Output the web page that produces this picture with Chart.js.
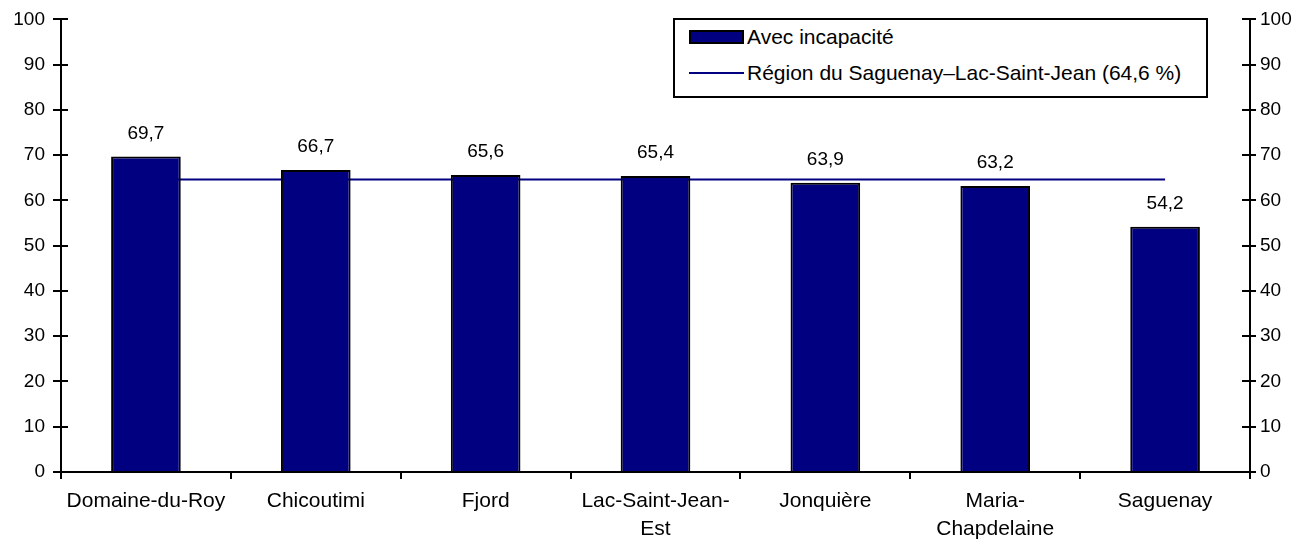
<!DOCTYPE html>
<html lang="fr">
<head>
  <meta charset="UTF-8">
  <title>Avec incapacité</title>
  <script src="https://cdn.jsdelivr.net/npm/chart.js"></script>
  <style>
    body { margin: 0; background: #fff; font-family: "Liberation Sans", Arial, sans-serif; }
    #wrap { position: relative; width: 1312px; height: 544px; }
    #legend {
      position: absolute; left: 673px; top: 18px; width: 531px; height: 76px;
      border: 2px solid #000; background: #fff; font-size: 21px; color: #000;
    }
    #legend .item { position: absolute; left: 14px; display: flex; align-items: center; height: 24px; }
    #legend .box { width: 51px; height: 10px; background: #000080; border: 2px solid #000; margin-right: 3px; }
    #legend .ln { width: 55px; height: 2px; background: #000080; margin-right: 3px; }
  </style>
</head>
<body>
  <div id="wrap">
    <canvas id="chart" width="1312" height="544"></canvas>
    <div id="legend">
      <div class="item" style="top:5px"><span class="box"></span>Avec incapacité</div>
      <div class="item" style="top:41px"><span class="ln"></span>Région du Saguenay–Lac-Saint-Jean (64,6 %)</div>
    </div>
  </div>

  <script>
    const territoires = ['Domaine-du-Roy', 'Chicoutimi', 'Fjord', ['Lac-Saint-Jean-', 'Est'], 'Jonquière', ['Maria-', 'Chapdelaine'], 'Saguenay'];
    const avecIncapacite = [69.7, 66.7, 65.6, 65.4, 63.9, 63.2, 54.2];
    const region = [64.6, 64.6, 64.6, 64.6, 64.6, 64.6, 64.6];

    const famille = '"Liberation Sans", Arial, sans-serif';
    const policeY = { family: famille, size: 19 };
    const policeX = { family: famille, size: 21, lineHeight: 1.3 };

    // étiquettes de valeur au-dessus des barres + petits traits de graduation vers l'intérieur
    const etiquettes = {
      id: 'etiquettes',
      afterDatasetsDraw(chart) {
        const ctx = chart.ctx;
        const meta = chart.getDatasetMeta(0);
        ctx.save();
        ctx.font = '19px ' + famille;
        ctx.fillStyle = '#000';
        ctx.textAlign = 'center';
        ctx.textBaseline = 'middle';
        meta.data.forEach((bar, i) => {
          ctx.fillText(avecIncapacite[i].toFixed(1).replace('.', ','), bar.x, bar.y - 23);
        });
        ctx.strokeStyle = '#000';
        ctx.lineWidth = 2;
        const y = chart.scales.y, y2 = chart.scales.y2;
        y.ticks.forEach(t => {
          const py = Math.round(y.getPixelForValue(t.value));
          ctx.beginPath();
          ctx.moveTo(y.right, py); ctx.lineTo(y.right + 7, py);
          ctx.moveTo(y2.left, py); ctx.lineTo(y2.left - 8, py);
          ctx.stroke();
        });
        ctx.restore();
      }
    };

    const axeY = {
      min: 0, max: 100,
      ticks: { stepSize: 10, color: '#000', font: policeY, padding: 8 },
      grid: { drawOnChartArea: false, tickLength: 8, color: '#000', lineWidth: 2 },
      border: { color: '#000', width: 2 }
    };

    new Chart(document.getElementById('chart'), {
      data: {
        labels: territoires,
        datasets: [
          {
            type: 'bar',
            label: 'Avec incapacité',
            data: avecIncapacite,
            backgroundColor: '#000080',
            borderColor: '#000',
            borderWidth: 2,
            barPercentage: 0.41,
            categoryPercentage: 1,
            order: 1
          },
          {
            type: 'line',
            label: 'Région du Saguenay–Lac-Saint-Jean (64,6 %)',
            data: region,
            borderColor: '#000080',
            borderWidth: 2,
            pointRadius: 0,
            order: 2
          }
        ]
      },
      options: {
        responsive: false,
        animation: false,
        layout: { padding: { left: 4, right: 4, top: 19, bottom: 2 } },
        plugins: { legend: { display: false }, tooltip: { enabled: false } },
        scales: {
          x: {
            ticks: { color: '#000', font: policeX, padding: 9, maxRotation: 0 },
            grid: { drawOnChartArea: false, tickLength: 7, color: '#000', lineWidth: 2, offset: true },
            border: { color: '#000', width: 2 },
            afterFit(s) { s.height = 70; }
          },
          y: Object.assign({}, axeY, { position: 'left', afterFit(s) { s.width = 57; } }),
          y2: Object.assign({}, axeY, {
            position: 'right',
            ticks: Object.assign({}, axeY.ticks, { padding: 4 }),
            grid: Object.assign({}, axeY.grid, { tickLength: 6 }),
            afterFit(s) { s.width = 58; }
          })
        }
      },
      plugins: [etiquettes]
    });
  </script>
</body>
</html>
